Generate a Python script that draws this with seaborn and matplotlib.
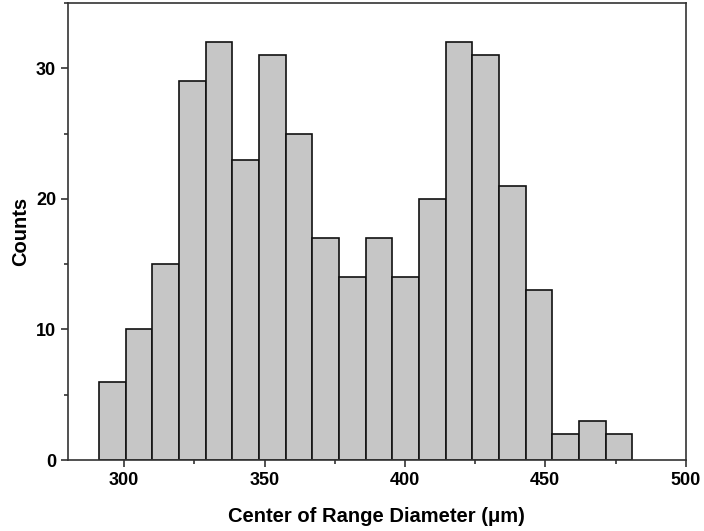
import matplotlib
matplotlib.use("Agg")
import matplotlib.pyplot as plt
from matplotlib.ticker import MultipleLocator
import seaborn as sns
import pandas as pd

bin_centers = [295.75, 305.25, 314.75, 324.25, 333.75, 343.25, 352.75, 362.25,
               371.75, 381.25, 390.75, 400.25, 409.75, 419.25, 428.75, 438.25,
               447.75, 457.25, 466.75, 476.25]
counts = [6, 10, 15, 29, 32, 23, 31, 25, 17, 14, 17, 14, 20, 32, 31, 21, 13, 2, 3, 2]
x_ticks = [300, 350, 400, 450, 500]
y_ticks = [0, 10, 20, 30]

df = pd.DataFrame({"center": bin_centers, "count": counts})

sns.set_style("white")
plt.rcParams['font.family'] = ['Liberation Sans', 'DejaVu Sans']
plt.rcParams['text.color'] = 'black'
plt.rcParams['axes.labelcolor'] = 'black'
plt.rcParams['xtick.color'] = '#333333'
plt.rcParams['ytick.color'] = '#333333'
plt.rcParams['xtick.labelcolor'] = 'black'
plt.rcParams['ytick.labelcolor'] = 'black'

fig = plt.figure(figsize=(7.04, 5.31), dpi=100)
ax = fig.add_axes([0.0966, 0.1337, 0.974 - 0.0966, 0.9944 - 0.1337])

sns.histplot(data=df, x="center", weights="count", binwidth=9.5, binrange=(291, 481),
             color="#c6c6c6", edgecolor="#111111", linewidth=1.2, alpha=1.0, ax=ax)

ax.set_xlim(280, 500)
ax.set_ylim(0, 35)
ax.set_xticks(x_ticks)
ax.set_yticks(y_ticks)
ax.xaxis.set_minor_locator(MultipleLocator(25))
ax.yaxis.set_minor_locator(MultipleLocator(5))
ax.tick_params(axis="both", which="major", direction="out", length=5, width=1.2,
               labelsize=13, labelcolor="black")
ax.tick_params(axis="both", which="minor", direction="out", length=3, width=1.2)
ax.tick_params(axis="both", which="both", bottom=True, left=True, top=False, right=False)
for lab in ax.get_xticklabels() + ax.get_yticklabels():
    lab.set_fontweight("bold")
for s in ax.spines.values():
    s.set_visible(True)
    s.set_color("#333333")
    s.set_linewidth(1.2)

ax.set_xlabel("Center of Range Diameter (\u03bcm)", fontsize=14.5, fontweight="bold",
              labelpad=13, color="black")
ax.set_ylabel("Counts", fontsize=14.5, fontweight="bold", labelpad=4, color="black")

fig.savefig("out.png", dpi=100)
